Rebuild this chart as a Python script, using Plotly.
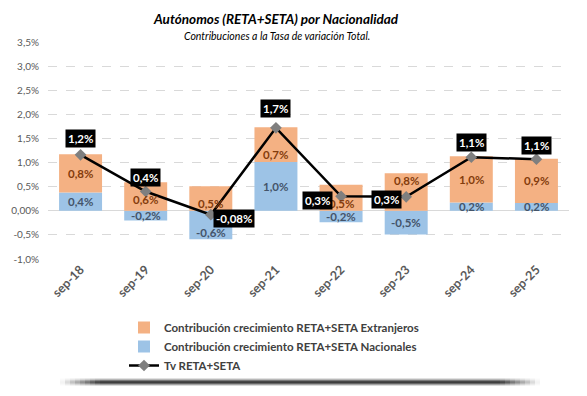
import plotly.graph_objects as go

categories = ["sep-18", "sep-19", "sep-20", "sep-21", "sep-22", "sep-23", "sep-24", "sep-25"]
extranjeros = [0.79, 0.59, 0.51, 0.72, 0.54, 0.78, 0.96, 0.92]
nacionales = [0.38, -0.20, -0.59, 1.01, -0.24, -0.49, 0.17, 0.16]
tv_total = [1.16, 0.40, -0.08, 1.72, 0.30, 0.29, 1.11, 1.07]
y_ticks = [-1.0, -0.5, 0.0, 0.5, 1.0, 1.5, 2.0, 2.5, 3.0, 3.5]

FONT = "Lato"

def fmt(v):
    s = f"{v:.2f}" if abs(v) < 0.1 else f"{v:.1f}"
    return s.replace(".", ",") + "%"

# plot area in pixels
L, R, T, B = 48, 569, 42, 259
W, H = 587, 396

def px_x(p):
    return (p - L) / (R - L)

def px_y(p):
    return (B - p) / (B - T)

fig = go.Figure()

fig.add_trace(go.Bar(
    x=categories, y=nacionales, name="Contribución crecimiento RETA+SETA Nacionales",
    marker=dict(color="#9DC3E6", line=dict(width=0)),
    legendrank=2,
))
fig.add_trace(go.Bar(
    x=categories, y=extranjeros, name="Contribución crecimiento RETA+SETA Extranjeros",
    marker=dict(color="#F4B183", line=dict(width=0)),
    legendrank=1,
))
fig.add_trace(go.Scatter(
    x=categories, y=tv_total, name="Tv RETA+SETA", mode="lines+markers",
    line=dict(color="#000000", width=2.5),
    marker=dict(symbol="diamond", size=9, color="#7F7F7F"),
    legendrank=3, cliponaxis=False,
))

# data labels of the stacked segments (centred on each segment, small manual nudges)
nac_shift = [0, 0, -7, 0, 0, 0, 0, 0]
ext_shift = [0, -3, -5, -10, -6, 11, 0, 0]
for c, n, e, sn, se in zip(categories, nacionales, extranjeros, nac_shift, ext_shift):
    fig.add_annotation(x=c, y=n / 2, text=f"<b>{fmt(n)}</b>", showarrow=False,
                       xanchor="center", yanchor="middle", yshift=sn,
                       font=dict(family=FONT, size=11.5, color="#44546A"))
    base = max(n, 0)
    fig.add_annotation(x=c, y=base + e / 2, text=f"<b>{fmt(e)}</b>", showarrow=False,
                       xanchor="center", yanchor="middle", yshift=se,
                       font=dict(family=FONT, size=11.5, color="#843C0C"))

# label offsets (pixels) for the total-line data labels
offsets = [(0, 16), (0, 14), (23, -4), (0, 19), (-24, -4), (-20, -3), (0, 15), (0, 14)]
for c, v, (dx, dy) in zip(categories, tv_total, offsets):
    fig.add_annotation(
        x=c, y=v, text=f"<b>{fmt(v)}</b>", showarrow=False,
        xanchor="center", yanchor="middle",
        xshift=dx, yshift=dy, bgcolor="#000000", borderpad=2,
        font=dict(family=FONT, size=11.5, color="#FFFFFF"),
    )

# titles
fig.add_annotation(x=px_x(276), y=px_y(19), xref="paper", yref="paper", showarrow=False,
                   xanchor="center", yanchor="middle",
                   text="<b><i>Autónomos (RETA+SETA) por Nacionalidad</i></b>",
                   font=dict(family=FONT, size=13.5, color="#000000"))
fig.add_annotation(x=px_x(277), y=px_y(36), xref="paper", yref="paper", showarrow=False,
                   xanchor="center", yanchor="middle",
                   text="<i>Contribuciones a la Tasa de variación Total.</i>",
                   font=dict(family=FONT, size=10.5, color="#000000"))

# bottom shadow decoration
shapes = []
x0, x1 = 60, 540
rows = [(378, 0.15), (379, 0.35), (380, 0.65), (381, 0.9), (382, 0.95), (383, 0.75), (384, 0.45), (385, 0.18)]
fade = 40
nfade = 8
step = fade / nfade
for (ry, a) in rows:
    shapes.append(dict(type="rect", xref="paper", yref="paper",
                       x0=px_x(x0 + fade), x1=px_x(x1 - fade),
                       y0=px_y(ry + 1), y1=px_y(ry),
                       fillcolor="#333333", opacity=a, line=dict(width=0), layer="above"))
    for k in range(nfade):
        f = (k + 0.5) / nfade
        for xa in (x0 + k * step, x1 - (k + 1) * step):
            shapes.append(dict(type="rect", xref="paper", yref="paper",
                               x0=px_x(xa), x1=px_x(xa + step),
                               y0=px_y(ry + 1), y1=px_y(ry),
                               fillcolor="#333333", opacity=a * f, line=dict(width=0), layer="above"))

fig.update_layout(
    width=W, height=H,
    margin=dict(l=L, r=W - R, t=T, b=H - B, pad=0, autoexpand=False),
    barmode="relative", bargap=0.34,
    plot_bgcolor="#FFFFFF", paper_bgcolor="#FFFFFF",
    separators=",.",
    font=dict(family=FONT, size=10, color="#595959"),
    showlegend=True,
    legend=dict(x=px_x(124), y=px_y(313), xanchor="left", yanchor="top",
                orientation="v", bgcolor="rgba(0,0,0,0)",
                font=dict(family=FONT, size=11.5, color="#404040", weight="bold"),
                tracegroupgap=0, itemwidth=30),
    shapes=shapes,
    hovermode=False,
)
fig.update_xaxes(range=[-0.5, 7.5], tickangle=-45, showline=False, ticks="",
                 tickfont=dict(family=FONT, size=12.5, color="#595959", weight="bold"),
                 showgrid=False)
fig.update_yaxes(range=[-1.0, 3.5], tickvals=y_ticks, ticktext=[fmt(v) for v in y_ticks],
                 showgrid=True, gridcolor="#D9D9D9", griddash="dash", gridwidth=1,
                 zeroline=True, zerolinecolor="#D9D9D9", zerolinewidth=1,
                 tickfont=dict(family=FONT, size=10, color="#595959"), ticks="",
                 ticklabelstandoff=8, showline=False)

fig.write_html("out.html", config={"displayModeBar": False},
               post_script="document.body.style.margin='0px';document.body.style.padding='0px';")
